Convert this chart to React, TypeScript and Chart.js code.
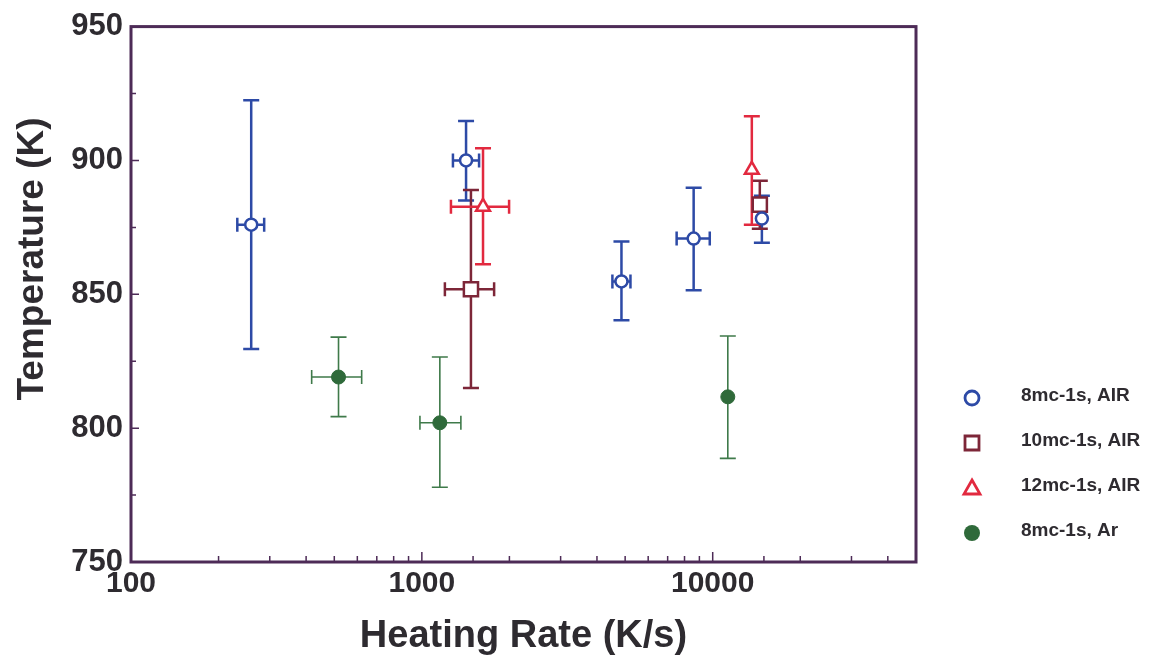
import React, { useEffect, useRef } from "react";
import { Chart, registerables } from "chart.js";

Chart.register(...registerables);

// ---------- data ----------
const xTickLabels = [100, 1000, 10000];
const yTickLabels = [750, 800, 850, 900, 950];

const seriesLabels = ["8mc-1s, AIR", "10mc-1s, AIR", "12mc-1s, AIR", "8mc-1s, Ar"];

// 8mc-1s, AIR
const s1Rate = [259, 1419, 4856, 8600, 14760];
const s1Temp = [876, 900, 854.8, 870.8, 878.3];
const s1RateLo = [232, 1279, 4520, 7516, 14760];
const s1RateHi = [287, 1573, 5215, 9770, 14760];
const s1TempLo = [829.6, 885, 840.3, 851.5, 869.3];
const s1TempHi = [922.5, 914.7, 869.7, 889.8, 886.8];

// 10mc-1s, AIR
const s2Rate = [1475, 14520];
const s2Temp = [851.9, 883.5];
const s2RateLo = [1200, 13900];
const s2RateHi = [1772, 15200];
const s2TempLo = [815, 874.5];
const s2TempHi = [889, 892.4];

// 12mc-1s, AIR
const s3Rate = [1623, 13630];
const s3Temp = [882.7, 896.5];
const s3RateLo = [1259, 13630];
const s3RateHi = [1995, 13630];
const s3TempLo = [861.2, 876];
const s3TempHi = [904.6, 916.5];

// 8mc-1s, Ar
const s4Rate = [517, 1153, 11270];
const s4Temp = [819.1, 802, 811.7];
const s4RateLo = [418, 985, 11270];
const s4RateHi = [621, 1362, 11270];
const s4TempLo = [804.3, 777.9, 788.7];
const s4TempHi = [834, 826.6, 834.4];

// ---------- styles ----------
const FONT = '"Liberation Sans", Arial, Helvetica, sans-serif';
const TEXT = "#2e2b30";
const FRAME = "#4d2b57";
const colors = ["#2d4aa6", "#7d2638", "#e2293f", "#2f6a3a"];
const errColors = ["#2d4aa6", "#7d2638", "#e2293f", "#3f7a4a"];
const errWidths = [2.5, 2.5, 2.5, 1.6];
const pointStyles = ["circle", "rect", "triangle", "circle"];
const pointRadii = [6, 10, 8, 7];
const fills = ["#ffffff", "#ffffff", "#ffffff", "#2f6a3a"];

const errData = [
  { xl: s1RateLo, xh: s1RateHi, yl: s1TempLo, yh: s1TempHi },
  { xl: s2RateLo, xh: s2RateHi, yl: s2TempLo, yh: s2TempHi },
  { xl: s3RateLo, xh: s3RateHi, yl: s3TempLo, yh: s3TempHi },
  { xl: s4RateLo, xh: s4RateHi, yl: s4TempLo, yh: s4TempHi },
];

const toPts = (xs: number[], ys: number[]) => xs.map((x, i) => ({ x, y: ys[i] }));

const errorBarPlugin = {
  id: "errorBars",
  beforeDatasetsDraw(chart: any) {
    const ctx = chart.ctx;
    const xs = chart.scales.x;
    const ys = chart.scales.y;
    ctx.save();
    errData.forEach((e, di) => {
      const ds = chart.data.datasets[di];
      ctx.strokeStyle = errColors[di];
      ctx.lineWidth = errWidths[di];
      ctx.lineCap = "butt";
      ds.data.forEach((p: any, j: number) => {
        const px = xs.getPixelForValue(p.x);
        const py = ys.getPixelForValue(p.y);
        if (e.yl[j] !== e.yh[j]) {
          const y1 = ys.getPixelForValue(e.yh[j]);
          const y2 = ys.getPixelForValue(e.yl[j]);
          const c = 8;
          ctx.beginPath();
          ctx.moveTo(px, y1);
          ctx.lineTo(px, y2);
          ctx.moveTo(px - c, y1);
          ctx.lineTo(px + c, y1);
          ctx.moveTo(px - c, y2);
          ctx.lineTo(px + c, y2);
          ctx.stroke();
        }
        if (e.xl[j] !== e.xh[j]) {
          const x1 = xs.getPixelForValue(e.xl[j]);
          const x2 = xs.getPixelForValue(e.xh[j]);
          const c = 7;
          ctx.beginPath();
          ctx.moveTo(x1, py);
          ctx.lineTo(x2, py);
          ctx.moveTo(x1, py - c);
          ctx.lineTo(x1, py + c);
          ctx.moveTo(x2, py - c);
          ctx.lineTo(x2, py + c);
          ctx.stroke();
        }
      });
    });
    ctx.restore();
  },
};

const framePlugin = {
  id: "frameTicks",
  afterDraw(chart: any) {
    const ctx = chart.ctx;
    const { left, right, top, bottom } = chart.chartArea;
    const xs = chart.scales.x;
    const ys = chart.scales.y;
    ctx.save();
    ctx.strokeStyle = FRAME;
    ctx.lineWidth = 1.5;
    ctx.beginPath();
    xs.ticks.forEach((t: any) => {
      const v = t.value;
      const lg = Math.log10(v);
      const major = Math.abs(lg - Math.round(lg)) < 1e-6;
      const px = xs.getPixelForValue(v);
      if (px <= left + 1 || px >= right - 1) return;
      const L = major ? 10 : 6;
      ctx.moveTo(px, bottom);
      ctx.lineTo(px, bottom - L);
    });
    ys.ticks.forEach((t: any) => {
      const v = t.value;
      const major = v % 50 === 0;
      const py = ys.getPixelForValue(v);
      if (py <= top + 1 || py >= bottom - 1) return;
      const L = major ? 8 : 5;
      ctx.moveTo(left, py);
      ctx.lineTo(left + L, py);
    });
    ctx.stroke();
    ctx.lineWidth = 3;
    ctx.strokeRect(left, top, right - left, bottom - top);

    // y axis title
    ctx.fillStyle = TEXT;
    ctx.font = `bold 37px ${FONT}`;
    ctx.textAlign = "center";
    ctx.textBaseline = "middle";
    ctx.translate(33, 259);
    ctx.rotate(-Math.PI / 2);
    ctx.fillText("Temperature (K)", 0, 0);
    ctx.restore();

    // legend
    ctx.save();
    const lx = 972;
    const lTop = 398;
    const step = 45;
    chart.data.datasets.forEach((ds: any, i: number) => {
      const cy = lTop + i * step;
      ctx.strokeStyle = colors[i];
      ctx.fillStyle = fills[i];
      ctx.lineWidth = 2.8;
      ctx.beginPath();
      if (i === 0) {
        ctx.arc(lx, cy, 7, 0, Math.PI * 2);
        ctx.fill();
        ctx.stroke();
      } else if (i === 1) {
        ctx.rect(lx - 7, cy - 7, 14, 14);
        ctx.fill();
        ctx.stroke();
      } else if (i === 2) {
        ctx.moveTo(lx, cy - 8);
        ctx.lineTo(lx + 8, cy + 6);
        ctx.lineTo(lx - 8, cy + 6);
        ctx.closePath();
        ctx.fill();
        ctx.stroke();
      } else {
        ctx.fillStyle = colors[i];
        ctx.arc(lx, cy, 8, 0, Math.PI * 2);
        ctx.fill();
      }
      ctx.fillStyle = TEXT;
      ctx.font = `bold 19px ${FONT}`;
      ctx.textAlign = "left";
      ctx.textBaseline = "middle";
      ctx.fillText(ds.label, 1021, cy - 2);
    });
    ctx.restore();
  },
};

export default function App() {
  const ref = useRef<HTMLCanvasElement | null>(null);
  useEffect(() => {
    if (!ref.current) return;
    const seriesX = [s1Rate, s2Rate, s3Rate, s4Rate];
    const seriesY = [s1Temp, s2Temp, s3Temp, s4Temp];
    const chart = new Chart(ref.current, {
      type: "scatter",
      data: {
        datasets: seriesLabels.map((label, i) => ({
          label,
          data: toPts(seriesX[i], seriesY[i]),
          pointStyle: pointStyles[i] as any,
          pointRadius: pointRadii[i],
          borderColor: colors[i],
          backgroundColor: fills[i],
          borderWidth: i === 3 ? 1 : 2.5,
          showLine: false,
        })),
      },
      options: {
        animation: false,
        responsive: false,
        events: [],
        layout: { padding: { left: 0, right: 239, top: 24, bottom: 0 } },
        plugins: { legend: { display: false }, tooltip: { enabled: false } },
        scales: {
          x: {
            type: "logarithmic",
            min: 100,
            max: 50000,
            grid: { display: false, drawTicks: false, tickLength: 0 },
            border: { display: false },
            ticks: {
              autoSkip: false,
              maxRotation: 0,
              padding: 4,
              color: TEXT,
              font: { family: FONT, size: 30, weight: "bold" },
              callback: (v: any) => (xTickLabels.includes(Number(v)) ? String(v) : ""),
            },
            title: {
              display: true,
              text: "Heating Rate (K/s)",
              color: TEXT,
              font: { family: FONT, size: 38, weight: "bold" },
              padding: { top: 0, bottom: 1 },
            },
            afterFit: (s: any) => {
              s.height = 98;
            },
          },
          y: {
            min: 750,
            max: 950,
            grid: { display: false, drawTicks: false, tickLength: 0 },
            border: { display: false },
            ticks: {
              stepSize: 25,
              padding: 8,
              color: TEXT,
              font: { family: FONT, size: 31, weight: "bold" },
              callback: (v: any) => (yTickLabels.includes(Number(v)) ? String(v) : ""),
            },
            afterFit: (s: any) => {
              s.width = 131;
            },
          },
        },
      },
      plugins: [errorBarPlugin, framePlugin],
    });
    return () => chart.destroy();
  }, []);
  return (
    <div style={{ position: "fixed", left: 0, top: 0, width: 1155, height: 660, background: "#fff" }}>
      <canvas ref={ref} width={1155} height={660} style={{ display: "block" }} />
    </div>
  );
}
